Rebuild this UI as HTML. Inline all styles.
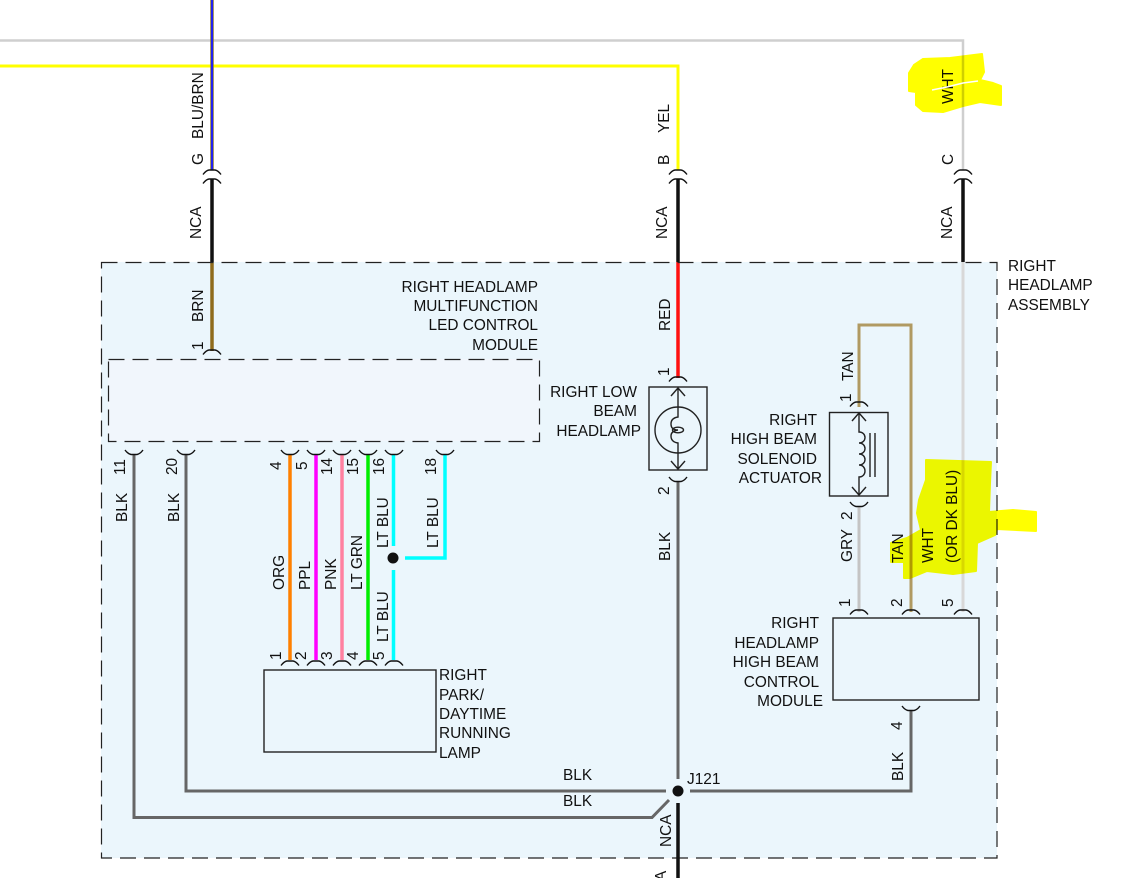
<!DOCTYPE html>
<html>
<head>
<meta charset="utf-8">
<style>
html,body{margin:0;padding:0;background:#fff;width:1144px;height:878px;overflow:hidden}
svg{display:block}
text{font-family:"Liberation Sans",sans-serif;font-size:15.4px;fill:#111}
.e{text-anchor:end}
.w{fill:none;stroke-linecap:butt;stroke-linejoin:miter}
.c{fill:none;stroke:#111;stroke-width:1.4}
.k{fill:none;stroke:#222;stroke-width:1.4}
</style>
</head>
<body>
<svg width="1144" height="878" viewBox="0 0 1144 878" xmlns="http://www.w3.org/2000/svg">
<defs>
<path id="t" d="M-9 4.500Q-6 .5 -3 0H3Q6 .5 9 4.500"/>
<path id="b" d="M-9 0Q-6 4 -3 4.500H3Q6 4 9 0"/>
</defs>
<!-- assembly -->
<rect x="101" y="262" width="896" height="596" fill="#ebf6fc"/>
<rect x="108" y="359" width="432" height="82" fill="#f1f6fc"/>
<!-- top wires -->
<path class="w" d="M0 40.5H963V170" stroke="#cfcfcf" stroke-width="2.5"/>
<path class="w" d="M963 262V612" stroke="#d8d8d8" stroke-width="3"/>
<path class="w" d="M0 66H678V170" stroke="#ffff00" stroke-width="3"/>
<path class="w" d="M212 0V170" stroke="#8a7a30" stroke-width="3.5"/>
<path class="w" d="M212 0V170" stroke="#2222ee" stroke-width="2"/>
<path class="w" d="M212 179V262M678 179V262M963 179V262" stroke="#111" stroke-width="3.5"/>
<path class="w" d="M212 262V351" stroke="#8f6b1c" stroke-width="3.5"/>
<path class="w" d="M678 262V378" stroke="#ff1010" stroke-width="3.5"/>
<!-- dashed boxes -->
<rect x="101.5" y="262.5" width="895.5" height="595.5" fill="none" stroke="#222" stroke-width="1.2" stroke-dasharray="16 8"/>
<rect x="108.5" y="359.5" width="431" height="82" fill="none" stroke="#222" stroke-width="1.2" stroke-dasharray="16 8"/>
<!-- lower wires -->
<path class="w" d="M134 455V817.5H652L669 800" stroke="#666" stroke-width="3"/>
<path class="w" d="M186 455V791H666" stroke="#666" stroke-width="3"/>
<path class="w" d="M678 481V779" stroke="#666" stroke-width="3"/>
<path class="w" d="M690 791H911V710" stroke="#666" stroke-width="3"/>
<path class="w" d="M678 803V878" stroke="#111" stroke-width="3.5"/>
<path class="w" d="M290 455V660" stroke="#ff8000" stroke-width="3.5"/>
<path class="w" d="M316 455V660" stroke="#ff00ff" stroke-width="3.5"/>
<path class="w" d="M342 455V660" stroke="#ff80a0" stroke-width="3.5"/>
<path class="w" d="M368 455V660" stroke="#00ee00" stroke-width="3.5"/>
<path class="w" d="M393.500 455V546M393.500 570V660" stroke="#00ffff" stroke-width="3.5"/>
<path class="w" d="M445 455V558H405" stroke="#00ffff" stroke-width="3.5"/>
<circle cx="393" cy="558" r="5.500" fill="#111"/>
<!-- right wires -->
<path class="w" d="M859 407V325H911V612" stroke="#b09a62" stroke-width="3"/>
<path class="w" d="M859 506V612" stroke="#c4c4c4" stroke-width="3"/>
<!-- junction -->
<circle cx="678" cy="791" r="5.500" fill="#111"/>
<!-- connectors -->
<g class="c">
<use href="#t" x="212" y="170"/><use href="#t" x="212" y="179"/>
<use href="#t" x="678" y="170"/><use href="#t" x="678" y="179"/>
<use href="#t" x="963" y="170"/><use href="#t" x="963" y="179"/>
<use href="#t" x="212" y="350"/>
<use href="#t" x="678" y="377"/>
<use href="#t" x="859" y="402"/>
<use href="#b" x="678" y="477"/>
<use href="#b" x="859" y="502"/>
<use href="#b" x="134" y="450"/>
<use href="#b" x="186" y="450"/>
<use href="#b" x="290" y="450"/>
<use href="#b" x="316" y="450"/>
<use href="#b" x="342" y="450"/>
<use href="#b" x="368" y="450"/>
<use href="#b" x="394" y="450"/>
<use href="#b" x="445" y="450"/>
<use href="#t" x="290" y="661"/>
<use href="#t" x="316" y="661"/>
<use href="#t" x="342" y="661"/>
<use href="#t" x="368" y="661"/>
<use href="#t" x="394" y="661"/>
<use href="#t" x="859" y="610"/>
<use href="#t" x="911" y="610"/>
<use href="#t" x="963" y="610"/>
<use href="#b" x="911" y="706"/>
</g>
<!-- component boxes -->
<rect x="264" y="670" width="172" height="82" fill="#ebf6fc" stroke="#222" stroke-width="1.4"/>
<rect x="833" y="618" width="146" height="82" fill="#ebf6fc" stroke="#222" stroke-width="1.4"/>
<!-- low beam lamp -->
<rect x="649" y="387" width="58" height="83" fill="#ebf6fc" stroke="#222" stroke-width="1.4"/>
<g class="k">
<path d="M678 388V407M671 396L678 388L685 396"/>
<circle cx="678" cy="430" r="23"/>
<path d="M678 407V417Q671 418 671 424Q671 430 678 430Q671 431 671 436Q671 442 678 443V469M671 461L678 469L685 461"/>
<ellipse cx="678" cy="430" rx="5.500" ry="2.800"/>
</g>
<!-- solenoid -->
<rect x="829.500" y="412.500" width="58.500" height="83.500" fill="#ebf6fc" stroke="#222" stroke-width="1.4"/>
<g class="k">
<path d="M859 413V432C867 432 867 443 859 443C867 443 867 454 859 454C867 454 867 465 859 465C867 465 867 477 859 477V495"/>
<path d="M852 421L859 413L866 421M852 487L859 495L866 487"/>
<path d="M870 433V477M875 433V477"/>
</g>
<!-- rotated labels -->
<g>
<text transform="translate(203,165) rotate(-90)">G</text>
<text transform="translate(203,139) rotate(-90)">BLU/BRN</text>
<text transform="translate(201,239) rotate(-90)">NCA</text>
<text transform="translate(669,165) rotate(-90)">B</text>
<text transform="translate(669,133) rotate(-90)">YEL</text>
<text transform="translate(667,239) rotate(-90)">NCA</text>
<text transform="translate(953,165) rotate(-90)">C</text>
<text transform="translate(953,104) rotate(-90)">WHT</text>
<text transform="translate(952,239) rotate(-90)">NCA</text>
<text transform="translate(203,322) rotate(-90)">BRN</text>
<text transform="translate(203,350) rotate(-90)">1</text>
<text transform="translate(670,331) rotate(-90)">RED</text>
<text transform="translate(669,376) rotate(-90)">1</text>
<text transform="translate(669,495) rotate(-90)">2</text>
<text transform="translate(670,561) rotate(-90)">BLK</text>
<text transform="translate(125,475) rotate(-90)">11</text>
<text transform="translate(127,522) rotate(-90)">BLK</text>
<text transform="translate(177,475) rotate(-90)">20</text>
<text transform="translate(179,522) rotate(-90)">BLK</text>
<text transform="translate(281,470) rotate(-90)">4</text>
<text transform="translate(307,470) rotate(-90)">5</text>
<text transform="translate(332,475) rotate(-90)">14</text>
<text transform="translate(358,475) rotate(-90)">15</text>
<text transform="translate(384,475) rotate(-90)">16</text>
<text transform="translate(436,475) rotate(-90)">18</text>
<text transform="translate(284,590) rotate(-90)">ORG</text>
<text transform="translate(310,590) rotate(-90)">PPL</text>
<text transform="translate(336,590) rotate(-90)">PNK</text>
<text transform="translate(362,590) rotate(-90)">LT GRN</text>
<text transform="translate(388,548) rotate(-90)">LT BLU</text>
<text transform="translate(438,548) rotate(-90)">LT BLU</text>
<text transform="translate(388,642) rotate(-90)">LT BLU</text>
<text transform="translate(281,660) rotate(-90)">1</text>
<text transform="translate(306,660) rotate(-90)">2</text>
<text transform="translate(332,660) rotate(-90)">3</text>
<text transform="translate(358,660) rotate(-90)">4</text>
<text transform="translate(384,660) rotate(-90)">5</text>
<text transform="translate(853,381) rotate(-90)">TAN</text>
<text transform="translate(851,402) rotate(-90)">1</text>
<text transform="translate(852,520) rotate(-90)">2</text>
<text transform="translate(852,562) rotate(-90)">GRY</text>
<text transform="translate(903,563) rotate(-90)">TAN</text>
<text transform="translate(933,563) rotate(-90)">WHT</text>
<text transform="translate(957,563) rotate(-90)">(OR DK BLU)</text>
<text transform="translate(850,607) rotate(-90)">1</text>
<text transform="translate(902,607) rotate(-90)">2</text>
<text transform="translate(953,607) rotate(-90)">5</text>
<text transform="translate(902,730) rotate(-90)">4</text>
<text transform="translate(903,781) rotate(-90)">BLK</text>
<text transform="translate(671,847) rotate(-90)">NCA</text>
<text transform="translate(666,881) rotate(-90)">A</text>
</g>
<!-- horizontal labels -->
<text x="1008" y="271">RIGHT</text>
<text x="1008" y="290">HEADLAMP</text>
<text x="1008" y="310">ASSEMBLY</text>
<text class="e" x="538" y="292">RIGHT HEADLAMP</text>
<text class="e" x="538" y="311">MULTIFUNCTION</text>
<text class="e" x="538" y="330">LED CONTROL</text>
<text class="e" x="538" y="350">MODULE</text>
<text class="e" x="637" y="397">RIGHT LOW</text>
<text class="e" x="637" y="416">BEAM</text>
<text class="e" x="641" y="436">HEADLAMP</text>
<text class="e" x="817" y="425">RIGHT</text>
<text class="e" x="817" y="444">HIGH BEAM</text>
<text class="e" x="817" y="464">SOLENOID</text>
<text class="e" x="822" y="483">ACTUATOR</text>
<text class="e" x="819" y="628">RIGHT</text>
<text class="e" x="819" y="648">HEADLAMP</text>
<text class="e" x="819" y="667">HIGH BEAM</text>
<text class="e" x="819" y="687">CONTROL</text>
<text class="e" x="823" y="706">MODULE</text>
<text x="439" y="680">RIGHT</text>
<text x="439" y="700">PARK/</text>
<text x="439" y="719">DAYTIME</text>
<text x="439" y="738">RUNNING</text>
<text x="439" y="758">LAMP</text>
<text x="687" y="784">J121</text>
<text x="563" y="780">BLK</text>
<text x="563" y="806">BLK</text>
<!-- highlighter -->
<g style="mix-blend-mode:multiply" stroke="#ffff00" stroke-width="2" stroke-linejoin="round" fill="#ffff00">
<path d="M909 73L914 65L923 59L950 58L982 54L984 72L980 80L993 83L1001 86L1001 105L980 102L963 106L943 112L923 111L916 105L916 92L909 91Z"/>
<path d="M926 460L991 462L990 483L989 512L1013 510L1036 512L1036 531L997 529L995 535L977 543L976 571L953 574L927 571L910 578L904 578L904 562L891 562L891 543L907 538L921 530L917 513L919 500L926 480Z"/>
</g>
<path fill="none" stroke="#fff" stroke-width="1.6" d="M932 90L947 87L963 83L978 81"/>
</svg>
</body>
</html>
